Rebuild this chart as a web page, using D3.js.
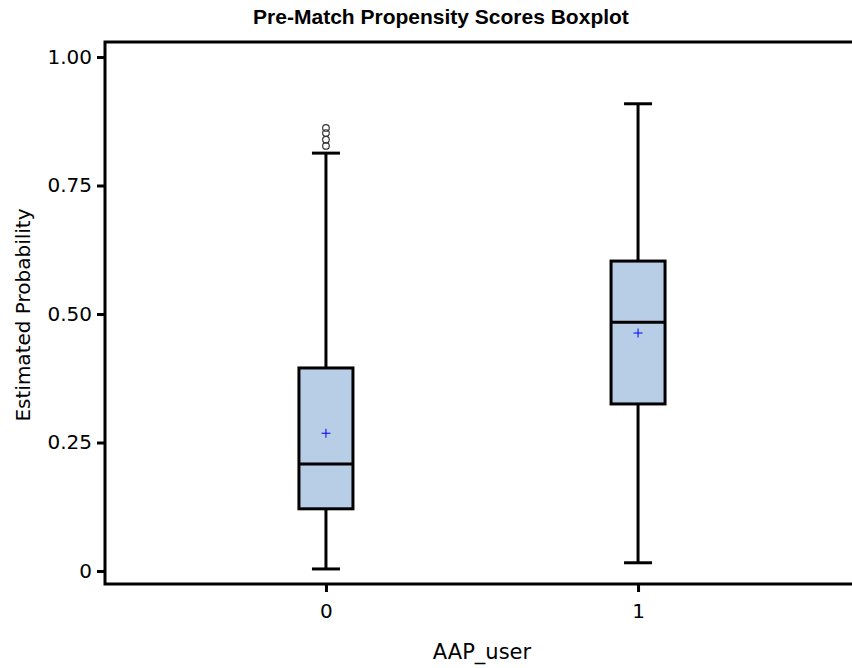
<!DOCTYPE html>
<html>
<head>
<meta charset="utf-8">
<script src="https://cdn.jsdelivr.net/npm/d3@7"></script>
<style>
  body { margin: 0; background: #fff; }
  text { font-family: "DejaVu Sans", sans-serif; }
</style>
</head>
<body>
<div id="chart"></div>
<script>
// groups of AAP_user
const groups = ["0", "1"];
// box stats
const mins    = [0.004, 0.016];
const q1s     = [0.121, 0.325];
const medians = [0.208, 0.484];
const q3s     = [0.395, 0.603];
const maxs    = [0.813, 0.909];
const means   = [0.268, 0.463];
// outliers for group 0
const outliers0 = [0.827, 0.839, 0.852, 0.862];
const yTicks = [0, 0.25, 0.5, 0.75, 1.0];

const W = 852, H = 668;
const frame = {left: 105, top: 42, bottom: 584, right: 859};

const svg = d3.select("#chart").append("svg")
  .attr("width", W).attr("height", H);

const xScale = d3.scalePoint()
  .domain(groups)
  .range([frame.left, frame.right])
  .padding(0.708);

const yScale = d3.scaleLinear()
  .domain([0, 1])
  .range([571, 57]);

// title
svg.append("text")
  .attr("x", 441).attr("y", 24)
  .attr("text-anchor", "middle")
  .style("font-family", "'Liberation Sans Narrow', 'Liberation Sans', Arial, sans-serif")
  .style("font-weight", "bold")
  .style("font-size", "21px")
  .text("Pre-Match Propensity Scores Boxplot");

// axes
svg.append("g")
  .attr("transform", "translate(" + frame.left + ",0)")
  .call(d3.axisLeft(yScale).tickValues(yTicks).tickSize(8).tickPadding(5)
    .tickFormat(d => d === 0 ? "0" : d3.format(".2f")(d)))
  .call(g => g.select(".domain").remove())
  .call(g => g.selectAll("line").attr("stroke", "#000").attr("stroke-width", 3))
  .call(g => g.selectAll("text").style("font-size", "20px").attr("fill", "#000"));

svg.append("g")
  .attr("transform", "translate(0," + frame.bottom + ")")
  .call(d3.axisBottom(xScale).tickSize(8).tickPadding(12))
  .call(g => g.select(".domain").remove())
  .call(g => g.selectAll("line").attr("stroke", "#000").attr("stroke-width", 3))
  .call(g => g.selectAll("text").style("font-size", "20px").attr("fill", "#000"));

// frame
svg.append("rect")
  .attr("x", frame.left).attr("y", frame.top)
  .attr("width", frame.right - frame.left)
  .attr("height", frame.bottom - frame.top)
  .attr("fill", "none")
  .attr("stroke", "#000")
  .attr("stroke-width", 3);

// axis labels
svg.append("text")
  .attr("x", 482).attr("y", 659)
  .attr("text-anchor", "middle")
  .style("font-size", "21px")
  .text("AAP_user");

svg.append("text")
  .attr("transform", "translate(30," + 315 + ") rotate(-90)")
  .attr("text-anchor", "middle")
  .style("font-size", "20px")
  .text("Estimated Probability");

// boxes
const boxW = 54, capW = 28;
const data = groups.map((g, i) => ({
  g: g, min: mins[i], q1: q1s[i], med: medians[i], q3: q3s[i], max: maxs[i], mean: means[i]
}));

const box = svg.selectAll(".box")
  .data(data)
  .enter()
  .append("g")
  .attr("class", "box");

// whiskers
box.append("line")
  .attr("x1", d => xScale(d.g)).attr("x2", d => xScale(d.g))
  .attr("y1", d => yScale(d.min)).attr("y2", d => yScale(d.max))
  .attr("stroke", "#000").attr("stroke-width", 3);

box.selectAll(".cap")
  .data(d => [[d.g, d.min], [d.g, d.max]])
  .enter()
  .append("line")
  .attr("class", "cap")
  .attr("x1", d => xScale(d[0]) - capW / 2)
  .attr("x2", d => xScale(d[0]) + capW / 2)
  .attr("y1", d => yScale(d[1])).attr("y2", d => yScale(d[1]))
  .attr("stroke", "#000").attr("stroke-width", 3);

box.append("rect")
  .attr("x", d => xScale(d.g) - boxW / 2)
  .attr("y", d => yScale(d.q3))
  .attr("width", boxW)
  .attr("height", d => yScale(d.q1) - yScale(d.q3))
  .attr("fill", "#b8cde6")
  .attr("stroke", "#000").attr("stroke-width", 3);

box.append("line")
  .attr("x1", d => xScale(d.g) - boxW / 2)
  .attr("x2", d => xScale(d.g) + boxW / 2)
  .attr("y1", d => yScale(d.med)).attr("y2", d => yScale(d.med))
  .attr("stroke", "#000").attr("stroke-width", 3);

// mean markers
box.append("path")
  .attr("d", d => {
    let cx = xScale(d.g), cy = yScale(d.mean);
    return "M" + (cx - 4.5) + "," + cy + "H" + (cx + 4.5) + "M" + cx + "," + (cy - 4.5) + "V" + (cy + 4.5);
  })
  .attr("stroke", "#0000ff").attr("stroke-width", 1);

// outliers
svg.selectAll(".outlier")
  .data(outliers0)
  .enter()
  .append("circle")
  .attr("class", "outlier")
  .attr("cx", xScale("0"))
  .attr("cy", d => yScale(d))
  .attr("r", 3.3)
  .attr("fill", "none")
  .attr("stroke", "#333")
  .attr("stroke-width", 1.2);
</script>
</body>
</html>
